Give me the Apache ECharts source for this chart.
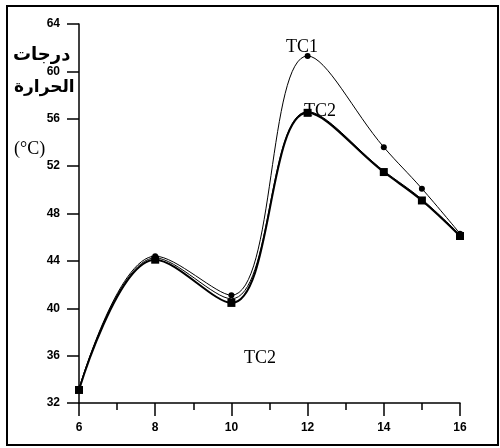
<!DOCTYPE html>
<html style="height: 100%">
<head>
<meta charset="utf-8">
<script src="https://cdn.jsdelivr.net/npm/echarts@6/dist/echarts.min.js"></script>
</head>
<body style="height: 100%; margin: 0; background: #fff">
<div id="container" style="width: 500px; height: 448px"></div>
<script type="text/javascript">
// x positions and temperatures
var xs = [6, 8, 10, 12, 14, 15, 16];
var tc1 = [33.2, 44.4, 41.1, 61.3, 53.6, 50.1, 46.3];
var tcMid = [33.2, 44.25, 40.8, 56.6, 51.6, 49.2, 46.2];
var tc2 = [33.1, 44.1, 40.45, 56.5, 51.5, 49.1, 46.1];

function pairs(ys) {
    return xs.map(function (x, i) { return [x, ys[i]]; });
}

var myChart = echarts.init(document.getElementById('container'));

var axisFont = { color: '#000', fontFamily: 'Liberation Sans', fontWeight: 'bold', fontSize: 12 };
var curve = 0.38;

var option = {
    backgroundColor: '#fff',
    animation: false,
    grid: { left: 79, right: 40, top: 24, bottom: 45 },
    xAxis: {
        type: 'value',
        min: 6, max: 16, interval: 2,
        axisLine: { lineStyle: { color: '#000', width: 1.5 } },
        axisTick: { inside: false, length: 13, lineStyle: { color: '#000', width: 1.5 } },
        minorTick: { show: true, splitNumber: 2, length: 7, lineStyle: { color: '#000', width: 1.5 } },
        splitLine: { show: false },
        axisLabel: Object.assign({ margin: 19 }, axisFont)
    },
    yAxis: {
        type: 'value',
        min: 32, max: 64, interval: 4,
        axisLine: { show: true, lineStyle: { color: '#000', width: 1.5 } },
        axisTick: { show: true, inside: false, length: 12, lineStyle: { color: '#000', width: 1.5 } },
        splitLine: { show: false },
        axisLabel: Object.assign({ margin: 19 }, axisFont)
    },
    series: [
        {
            name: 'TC1', type: 'line', smooth: curve,
            data: pairs(tc1),
            symbol: 'circle', symbolSize: 6,
            lineStyle: { color: '#000', width: 1 },
            itemStyle: { color: '#000' }
        },
        {
            name: 'TC3', type: 'line', smooth: curve,
            data: pairs(tcMid),
            symbol: 'none',
            lineStyle: { color: '#000', width: 1 }
        },
        {
            name: 'TC2', type: 'line', smooth: curve,
            data: pairs(tc2),
            symbol: 'rect', symbolSize: 8,
            lineStyle: { color: '#000', width: 2 },
            itemStyle: { color: '#000' }
        }
    ],
    graphic: [
        { type: 'rect', shape: { x: 7, y: 6, width: 491, height: 439 },
          style: { fill: 'none', stroke: '#000', lineWidth: 2 }, silent: true },
        { type: 'text', left: 13, top: 46,
          style: { text: 'درجات', font: 'bold 18px "DejaVu Sans"', fill: '#000' } },
        { type: 'text', left: 14, top: 79,
          style: { text: 'الحرارة', font: 'bold 17px "DejaVu Sans"', fill: '#000' } },
        { type: 'text', left: 14, top: 140,
          style: { text: '(°C)', font: '18px "Liberation Serif"', fill: '#000' } },
        { type: 'text', left: 286, top: 38,
          style: { text: 'TC1', font: '18px "Liberation Serif"', fill: '#000' } },
        { type: 'text', left: 304, top: 102,
          style: { text: 'TC2', font: '18px "Liberation Serif"', fill: '#000' } },
        { type: 'text', left: 244, top: 349,
          style: { text: 'TC2', font: '18px "Liberation Serif"', fill: '#000' } }
    ]
};
myChart.setOption(option);
</script>
</body>
</html>
